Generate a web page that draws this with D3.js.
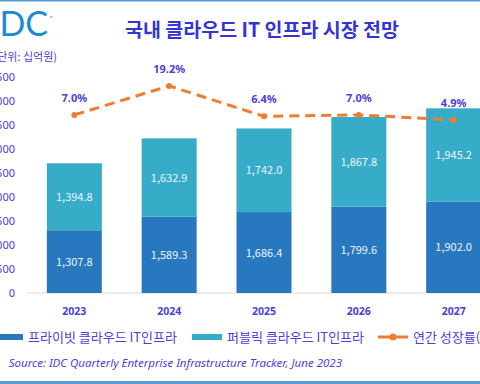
<!DOCTYPE html>
<html>
<head>
<meta charset="utf-8">
<script src="https://cdn.jsdelivr.net/npm/d3@7"></script>
<style>
  body { margin: 0; background: #fff; }
  #chart { width: 480px; height: 384px; overflow: hidden; }
  text { font-family: "Noto Sans CJK KR", "Noto Sans", sans-serif; }
</style>
</head>
<body>
<div id="chart"></div>
<script>
const years = ["2023", "2024", "2025", "2026", "2027"];
const privateCloud = [1307.8, 1589.3, 1686.4, 1799.6, 1902.0];
const publicCloud = [1394.8, 1632.9, 1742.0, 1867.8, 1945.2];
const growth = [7.0, 19.2, 6.4, 7.0, 4.9];
const yTicks = [0, 500, 1000, 1500, 2000, 2500, 3000, 3500, 4000, 4500];

const width = 480, height = 384;
const labelColor = "#4a3fdc";
const darkBlue = "#2878c0";
const teal = "#36acc8";
const orange = "#ee7d2f";

const svg = d3.select("#chart")
    .append("svg")
    .attr("width", width)
    .attr("height", height);

// frame lines
svg.append("rect").attr("x", 0).attr("y", 0).attr("width", width).attr("height", 1.5).attr("fill", "#5b9bd5");
svg.append("rect").attr("x", 0).attr("y", 381).attr("width", width).attr("height", 3).attr("fill", "#5b9bd5");

const x = d3.scaleBand().domain(years).range([7, 521]).padding(0.42);
const y = d3.scaleLinear().domain([0, 4500]).range([293, 77]);
const yr = d3.scaleLinear().domain([0, 20]).range([131.6, 84]);

// logo and title
svg.append("text")
    .attr("x", 48).attr("y", 36)
    .attr("text-anchor", "end")
    .attr("font-weight", 400)
    .attr("font-size", 34)
    .attr("fill", "#1b8bd0")
    .style("font-family", "Lato, sans-serif")
    .text("IDC");
svg.append("text")
    .attr("x", 50).attr("y", 20)
    .attr("font-size", 5)
    .attr("fill", "#1b8bd0")
    .text("®");

svg.append("text")
    .attr("x", 262).attr("y", 37)
    .attr("text-anchor", "middle")
    .attr("font-size", 19.5)
    .attr("font-weight", "bold")
    .attr("fill", "#3434d6")
    .text("국내 클라우드 IT 인프라 시장 전망");

svg.append("text")
    .attr("x", 57).attr("y", 61)
    .attr("text-anchor", "end")
    .attr("font-size", 11)
    .attr("fill", labelColor)
    .text("(단위: 십억원)");

// y axis labels
const yAxis = svg.append("g")
    .attr("transform", "translate(15,0)")
    .call(d3.axisLeft(y).tickValues(yTicks).tickSize(0).tickPadding(0).tickFormat(d3.format(",")));
yAxis.select(".domain").remove();
yAxis.selectAll("text")
    .attr("fill", labelColor)
    .attr("font-size", 11)
    .style("font-family", "'Noto Sans', sans-serif");

// baseline
svg.append("line")
    .attr("x1", 27).attr("x2", width)
    .attr("y1", y(0)).attr("y2", y(0))
    .attr("stroke", "#d9d9d9");

// stacked bars
const stackData = years.map((yr_, i) => ({ year: yr_, priv: privateCloud[i], pub: publicCloud[i] }));

svg.append("g").selectAll("rect")
    .data(stackData)
    .join("rect")
    .attr("x", d => x(d.year))
    .attr("width", x.bandwidth())
    .attr("y", d => y(d.priv))
    .attr("height", d => y(0) - y(d.priv))
    .attr("fill", darkBlue);

svg.append("g").selectAll("rect")
    .data(stackData)
    .join("rect")
    .attr("x", d => x(d.year))
    .attr("width", x.bandwidth())
    .attr("y", d => y(d.priv + d.pub))
    .attr("height", d => y(d.priv) - y(d.priv + d.pub))
    .attr("fill", teal);

const fmt = d3.format(",.1f");
const valLabels = svg.append("g")
    .attr("fill", "#eef4fa")
    .attr("font-size", 11)
    .attr("text-anchor", "middle")
    .style("font-family", "'Noto Sans', sans-serif");

valLabels.selectAll(".priv")
    .data(stackData)
    .join("text")
    .attr("x", d => x(d.year) + x.bandwidth() / 2)
    .attr("y", d => (y(0) + y(d.priv)) / 2 + 4)
    .text(d => fmt(d.priv));

valLabels.selectAll(".pub")
    .data(stackData)
    .join("text")
    .attr("x", d => x(d.year) + x.bandwidth() / 2)
    .attr("y", d => (y(d.priv) + y(d.priv + d.pub)) / 2 + 4)
    .text(d => fmt(d.pub));

// x labels
svg.append("g").selectAll("text")
    .data(years)
    .join("text")
    .attr("x", d => x(d) + x.bandwidth() / 2)
    .attr("y", 315)
    .attr("text-anchor", "middle")
    .attr("font-size", 10.5)
    .attr("font-weight", "bold")
    .attr("fill", labelColor)
    .style("font-family", "'Noto Sans', sans-serif")
    .text(d => d);

// growth line
const cx = (d, i) => x(years[i]) + x.bandwidth() / 2;
const line = d3.line()
    .x((d, i) => cx(d, i))
    .y(d => yr(d));

svg.append("path")
    .datum(growth)
    .attr("d", line)
    .attr("fill", "none")
    .attr("stroke", orange)
    .attr("stroke-width", 3)
    .attr("stroke-dasharray", "10,6");

svg.append("g").selectAll("circle")
    .data(growth)
    .join("circle")
    .attr("cx", cx)
    .attr("cy", d => yr(d))
    .attr("r", 3)
    .attr("fill", orange);

svg.append("g").selectAll("text")
    .data(growth)
    .join("text")
    .attr("x", cx)
    .attr("y", d => yr(d) - 13)
    .attr("text-anchor", "middle")
    .attr("font-size", 11)
    .attr("font-weight", "bold")
    .attr("fill", labelColor)
    .style("font-family", "'Noto Sans', sans-serif")
    .text(d => d.toFixed(1) + "%");

// legend
const legend = svg.append("g").attr("font-size", 13).attr("fill", labelColor);
legend.append("rect").attr("x", -10).attr("y", 334).attr("width", 33).attr("height", 6).attr("fill", darkBlue);
legend.append("text").attr("x", 28).attr("y", 342).text("프라이빗 클라우드 IT인프라");
legend.append("rect").attr("x", 192).attr("y", 334).attr("width", 30).attr("height", 6).attr("fill", teal);
legend.append("text").attr("x", 227).attr("y", 342).text("퍼블릭 클라우드 IT인프라");
legend.append("line").attr("x1", 378).attr("x2", 408).attr("y1", 337).attr("y2", 337)
    .attr("stroke", orange).attr("stroke-width", 3);
legend.append("circle").attr("cx", 393).attr("cy", 337).attr("r", 3.5).attr("fill", orange);
legend.append("text").attr("x", 413).attr("y", 342).text("연간 성장률(%)");

// source
svg.append("text")
    .attr("x", 342).attr("y", 367)
    .attr("text-anchor", "end")
    .attr("font-size", 11.5)
    .attr("font-style", "italic")
    .attr("fill", labelColor)
    .style("font-family", "'Noto Sans', sans-serif")
    .text("Source: IDC Quarterly Enterprise Infrastructure Tracker, June 2023");
</script>
</body>
</html>
